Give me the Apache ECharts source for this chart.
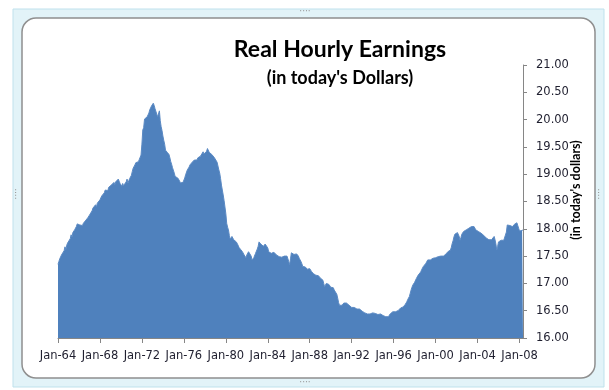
<!DOCTYPE html>
<html>
<head>
<meta charset="utf-8">
<script src="https://cdn.jsdelivr.net/npm/echarts@6/dist/echarts.min.js"></script>
<style>
html,body{margin:0;padding:0;background:#ffffff;}
#chart{width:609px;height:390px;}
</style>
</head>
<body>
<div id="chart"></div>
<script>
// Monthly real hourly earnings (in today's dollars), Jan-1964 .. May-2008
const startYear = 1964;
const monthNames = ['Jan','Feb','Mar','Apr','May','Jun','Jul','Aug','Sep','Oct','Nov','Dec'];
const earnings = [
  17.35,17.40,17.45,17.43,17.52,17.55,17.50,17.60,17.67,17.62,17.70,17.74, // 1964
  17.76,17.72,17.82,17.89,17.85,17.93,17.90,17.98,17.96,18.04,18.09,18.11, // 1965
  18.12,18.07,18.04,18.08,18.06,18.10,18.12,18.09,18.16,18.13,18.20,18.22, // 1966
  18.25,18.28,18.24,18.33,18.38,18.35,18.41,18.44,18.40,18.47,18.50,18.49, // 1967
  18.53,18.56,18.60,18.62,18.58,18.66,18.71,18.69,18.73,18.70,18.76,18.74, // 1968
  18.77,18.80,18.78,18.82,18.85,18.81,18.86,18.84,18.88,18.91,18.87,18.83, // 1969
  18.80,18.78,18.83,18.79,18.82,18.80,18.86,18.91,18.84,18.88,18.92,18.94, // 1970
  18.98,19.05,19.11,19.08,19.17,19.21,19.18,19.22,19.23,19.27,19.30,19.35, // 1971
  19.55,19.81,19.85,20.01,19.98,20.03,20.05,20.08,20.12,20.18,20.15,20.25, // 1972
  20.22,20.30,20.26,20.20,20.18,20.10,20.05,20.02,20.16,19.98,19.87,19.80, // 1973
  19.70,19.62,19.55,19.44,19.46,19.40,19.41,19.36,19.30,19.23,19.18,19.12, // 1974
  19.09,19.02,18.96,18.95,18.97,18.93,18.94,18.88,18.84,18.86,18.83,18.85, // 1975
  18.88,18.93,18.99,19.02,19.08,19.11,19.13,19.17,19.15,19.21,19.19,19.24, // 1976
  19.26,19.23,19.27,19.26,19.30,19.32,19.29,19.33,19.35,19.31,19.41,19.37, // 1977
  19.36,19.38,19.42,19.47,19.44,19.40,19.41,19.38,19.36,19.35,19.33,19.30, // 1978
  19.31,19.29,19.22,19.15,19.08,19.02,18.92,18.80,18.71,18.62,18.52,18.40, // 1979
  18.28,18.10,18.03,17.98,17.88,17.81,17.84,17.86,17.83,17.80,17.79,17.77, // 1980
  17.76,17.73,17.70,17.66,17.64,17.62,17.60,17.58,17.55,17.52,17.49,17.47, // 1981
  17.52,17.55,17.58,17.60,17.61,17.50,17.43,17.45,17.47,17.49,17.55,17.58, // 1982
  17.63,17.68,17.76,17.74,17.72,17.73,17.70,17.68,17.70,17.72,17.73,17.71, // 1983
  17.65,17.58,17.60,17.57,17.55,17.56,17.58,17.57,17.55,17.54,17.52,17.53, // 1984
  17.51,17.49,17.50,17.47,17.48,17.46,17.48,17.50,17.49,17.52,17.50,17.48, // 1985
  17.40,17.34,17.45,17.56,17.58,17.55,17.53,17.55,17.52,17.54,17.52,17.50, // 1986
  17.46,17.43,17.40,17.36,17.31,17.29,17.28,17.30,17.27,17.26,17.28,17.25, // 1987
  17.27,17.25,17.22,17.20,17.18,17.19,17.16,17.15,17.16,17.13,17.14,17.12, // 1988
  17.10,17.11,17.08,17.06,17.00,16.94,16.97,17.00,17.03,17.01,16.98,16.96, // 1989
  16.93,16.91,16.90,16.92,16.88,16.89,16.86,16.80,16.73,16.65,16.60,16.59, // 1990
  16.58,16.60,16.62,16.64,16.66,16.65,16.64,16.66,16.63,16.60,16.57,16.58, // 1991
  16.56,16.57,16.55,16.56,16.54,16.55,16.53,16.54,16.52,16.53,16.51,16.50, // 1992
  16.49,16.47,16.48,16.46,16.45,16.47,16.44,16.45,16.46,16.44,16.45,16.47, // 1993
  16.46,16.48,16.47,16.45,16.44,16.46,16.43,16.45,16.42,16.44,16.43,16.42, // 1994
  16.41,16.40,16.42,16.39,16.38,16.40,16.39,16.42,16.44,16.43,16.46,16.48, // 1995
  16.47,16.49,16.48,16.50,16.51,16.50,16.52,16.53,16.55,16.54,16.56,16.57, // 1996
  16.58,16.61,16.63,16.66,16.70,16.73,16.76,16.82,16.88,16.93,16.97,17.00, // 1997
  17.02,17.05,17.09,17.12,17.15,17.16,17.18,17.21,17.25,17.27,17.31,17.34, // 1998
  17.33,17.37,17.40,17.43,17.42,17.44,17.43,17.45,17.44,17.46,17.44,17.46, // 1999
  17.47,17.45,17.48,17.49,17.47,17.48,17.50,17.49,17.51,17.50,17.52,17.51, // 2000
  17.54,17.56,17.58,17.57,17.60,17.61,17.66,17.73,17.78,17.85,17.90,17.91, // 2001
  17.90,17.93,17.95,17.86,17.79,17.84,17.90,17.93,17.95,17.94,17.96,17.98, // 2002
  17.97,17.99,18.01,18.00,18.02,18.04,18.03,18.01,18.04,18.03,17.98,17.97, // 2003
  17.96,17.95,17.93,17.94,17.92,17.90,17.91,17.88,17.86,17.87,17.83,17.81, // 2004
  17.82,17.80,17.83,17.81,17.80,17.79,17.82,17.86,17.80,17.72,17.61,17.68, // 2005
  17.76,17.78,17.77,17.79,17.80,17.78,17.79,17.81,17.80,17.94,18.07,18.05, // 2006
  18.07,18.06,18.08,18.05,18.04,18.06,18.08,18.10,18.09,18.11,18.06,18.01, // 2007
  17.96,17.95,17.99,17.97,17.98                                            // 2008
];
const categories = earnings.map(function (v, i) {
  const y = startYear + Math.floor(i / 12);
  return monthNames[i % 12] + '-' + String(y % 100).padStart(2, '0');
});
const yMin = 16, yMax = 21, yStep = 0.5;
const labelEvery = 48; // one label every 4 years
const titleText = 'Real Hourly Earnings';
const subtitleText = "(in today's Dollars)";
const yAxisTitle = "(in today's dollars)";

const chart = echarts.init(document.getElementById('chart'), null, {renderer: 'canvas'});
const axisGray = '#868686';
const option = {
  animation: false,
  backgroundColor: '#ffffff',
  title: [
    {text: titleText, left: 335, top: 33, textAlign: 'center',
     textStyle: {fontFamily: 'Lato', fontWeight: 'bold', fontSize: 23, color: '#000'}},
    {text: subtitleText, left: 335, top: 64, textAlign: 'center',
     textStyle: {fontFamily: 'Lato', fontWeight: 'bold', fontSize: 18, color: '#000'}}
  ],
  graphic: [
    {type: 'rect', z: -20, shape: {x: 13, y: 9, width: 591, height: 378},
     style: {fill: '#e2f3f8', stroke: '#bfe1ec', lineWidth: 1}},
    {type: 'rect', z: -10, shape: {x: 22, y: 18, width: 573, height: 360, r: 14},
     style: {fill: '#ffffff', stroke: '#8f8f8f', lineWidth: 1.5}},
    {type: 'text', z: 10, x: 305, y: 12,
     style: {text: '····', fill: '#9a9a9a', font: '9px DejaVu Sans', textAlign: 'center', textVerticalAlign: 'middle'}},
    {type: 'text', z: 10, x: 305, y: 383,
     style: {text: '····', fill: '#9a9a9a', font: '9px DejaVu Sans', textAlign: 'center', textVerticalAlign: 'middle'}},
    {type: 'text', z: 10, x: 17, y: 194, rotation: Math.PI / 2,
     style: {text: '····', fill: '#9a9a9a', font: '9px DejaVu Sans', textAlign: 'center', textVerticalAlign: 'middle'}},
    {type: 'text', z: 10, x: 600, y: 194, rotation: Math.PI / 2,
     style: {text: '····', fill: '#9a9a9a', font: '9px DejaVu Sans', textAlign: 'center', textVerticalAlign: 'middle'}},
    {type: 'text', z: 10, x: 576, y: 190, rotation: Math.PI / 2,
     style: {text: yAxisTitle, fill: '#000', font: 'bold 12.5px Lato', textAlign: 'center', textVerticalAlign: 'middle'}}
  ],
  grid: {left: 58, right: 86, top: 65, bottom: 52, containLabel: false},
  xAxis: {
    type: 'category',
    data: categories,
    boundaryGap: false,
    axisLine: {lineStyle: {color: axisGray, width: 1}},
    axisTick: {show: true, length: 5, interval: function (i) { return i % labelEvery === 0; }, lineStyle: {color: axisGray}},
    axisLabel: {interval: function (i) { return i % labelEvery === 0; }, margin: 12,
      fontFamily: 'DejaVu Sans', fontSize: 11.5, color: '#1f1f2f'},
    splitLine: {show: false}
  },
  yAxis: {
    type: 'value',
    position: 'right',
    min: yMin, max: yMax, interval: yStep,
    axisLine: {show: true, lineStyle: {color: axisGray, width: 1}},
    axisTick: {show: true, length: 4, lineStyle: {color: axisGray}},
    axisLabel: {margin: 13, fontFamily: 'DejaVu Sans', fontSize: 11.5, color: '#1f1f2f',
      formatter: function (v) { return v.toFixed(2); }},
    splitLine: {show: false}
  },
  series: [{
    type: 'line',
    data: earnings,
    showSymbol: false,
    symbol: 'none',
    lineStyle: {color: '#5b8ac4', width: 1},
    areaStyle: {color: '#4f81bd', opacity: 1, origin: 'start'},
    itemStyle: {color: '#4f81bd'}
  }]
};
chart.setOption(option);
</script>
</body>
</html>
